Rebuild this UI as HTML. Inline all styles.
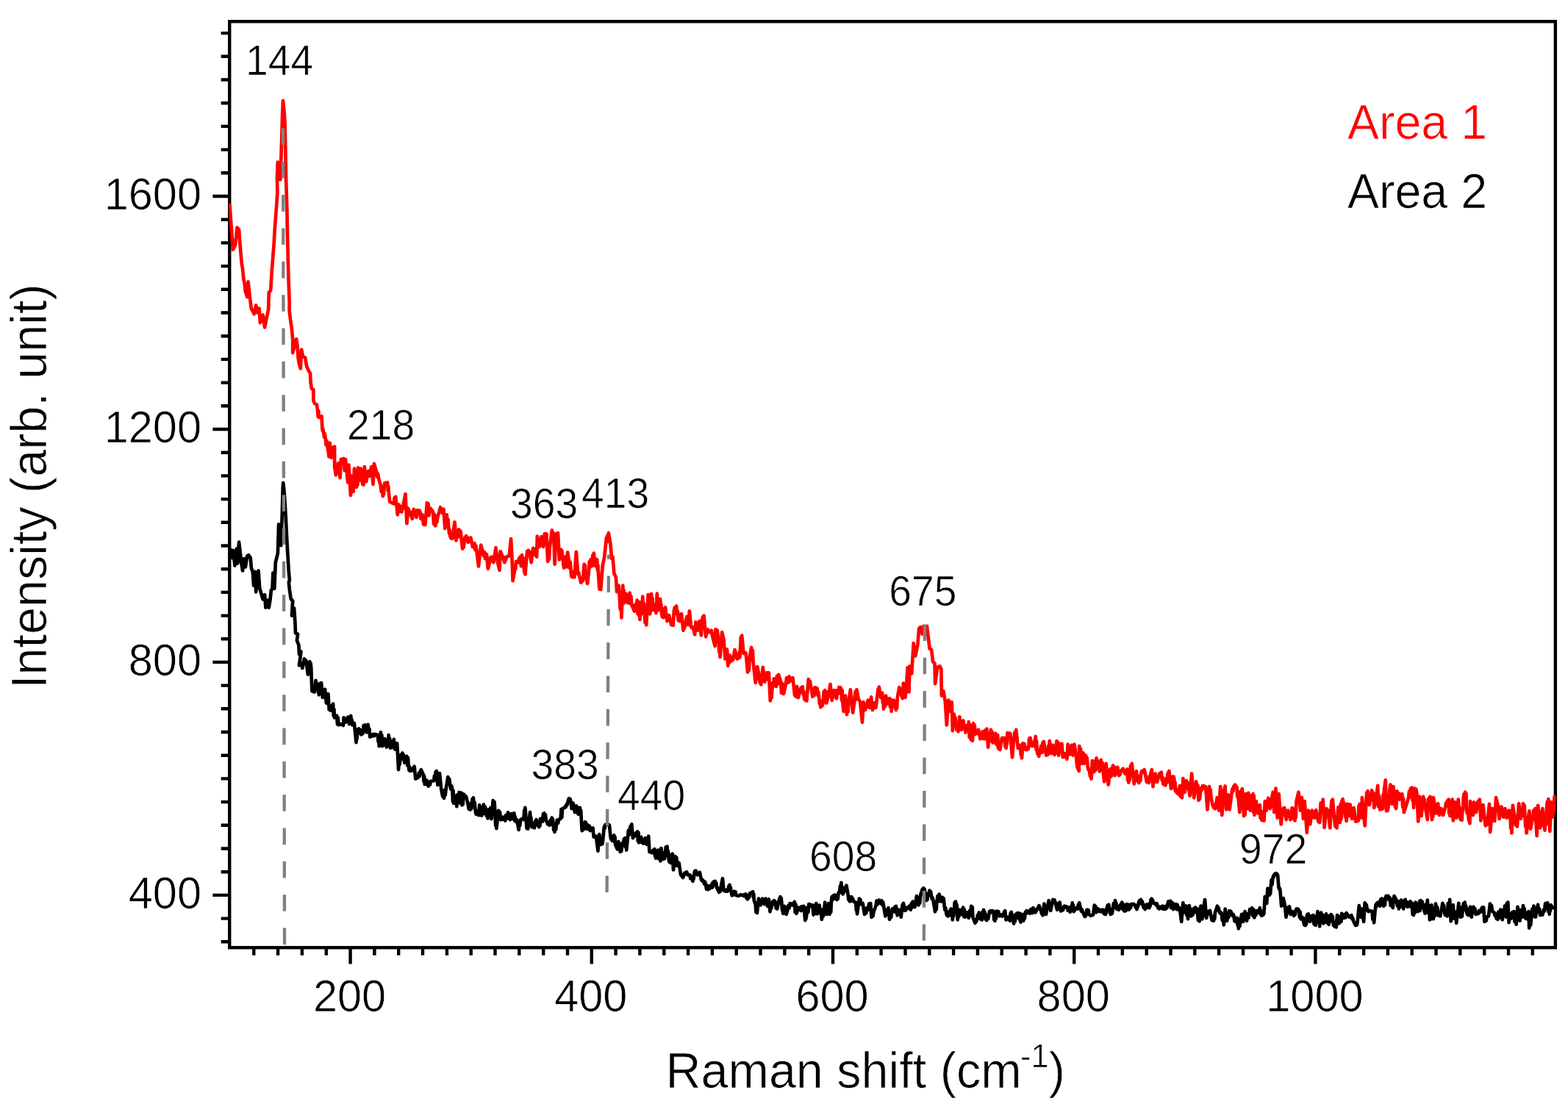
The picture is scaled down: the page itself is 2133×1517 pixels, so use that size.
<!DOCTYPE html>
<html lang="en"><head><meta charset="utf-8"><title>Raman spectra</title>
<style>html,body{margin:0;padding:0;background:#fff}svg{display:block}</style></head>
<body>
<svg xmlns="http://www.w3.org/2000/svg" width="2133" height="1517" viewBox="0 0 2133 1517" font-family='"Liberation Sans", Arial, Helvetica, sans-serif'>
<style>text{stroke:#fff;stroke-width:0.7px;paint-order:fill stroke;stroke-linejoin:round}</style>
<rect x="0" y="0" width="2133" height="1517" fill="#fff"/>
<defs><clipPath id="plot"><rect x="311.35" y="28.35" width="1805.40" height="1261.80"/></clipPath></defs>
<path d="M300.7,1281.3H312.2M300.7,1249.6H312.2M289.4,1217.9H312.2M300.7,1186.2H312.2M300.7,1154.5H312.2M300.7,1122.8H312.2M300.7,1091.1H312.2M300.7,1059.4H312.2M300.7,1027.7H312.2M300.7,996.0H312.2M300.7,964.3H312.2M300.7,932.6H312.2M289.4,900.9H312.2M300.7,869.2H312.2M300.7,837.6H312.2M300.7,805.9H312.2M300.7,774.2H312.2M300.7,742.5H312.2M300.7,710.8H312.2M300.7,679.1H312.2M300.7,647.4H312.2M300.7,615.7H312.2M289.4,584.0H312.2M300.7,552.3H312.2M300.7,520.6H312.2M300.7,488.9H312.2M300.7,457.2H312.2M300.7,425.5H312.2M300.7,393.8H312.2M300.7,362.1H312.2M300.7,330.4H312.2M300.7,298.7H312.2M289.4,267.0H312.2M300.7,235.3H312.2M300.7,203.6H312.2M300.7,171.9H312.2M300.7,140.2H312.2M300.7,108.5H312.2M300.7,76.8H312.2M300.7,45.1H312.2M345.3,1289.2V1299.8M378.1,1289.2V1299.8M410.9,1289.2V1299.8M443.8,1289.2V1299.8M476.6,1289.2V1311.6M509.4,1289.2V1299.8M542.2,1289.2V1299.8M575.0,1289.2V1299.8M607.9,1289.2V1299.8M640.7,1289.2V1299.8M673.5,1289.2V1299.8M706.3,1289.2V1299.8M739.2,1289.2V1299.8M772.0,1289.2V1299.8M804.8,1289.2V1311.6M837.6,1289.2V1299.8M870.4,1289.2V1299.8M903.3,1289.2V1299.8M936.1,1289.2V1299.8M968.9,1289.2V1299.8M1001.7,1289.2V1299.8M1034.5,1289.2V1299.8M1067.4,1289.2V1299.8M1100.2,1289.2V1299.8M1133.0,1289.2V1311.6M1165.8,1289.2V1299.8M1198.6,1289.2V1299.8M1231.5,1289.2V1299.8M1264.3,1289.2V1299.8M1297.1,1289.2V1299.8M1329.9,1289.2V1299.8M1362.7,1289.2V1299.8M1395.6,1289.2V1299.8M1428.4,1289.2V1299.8M1461.2,1289.2V1311.6M1494.0,1289.2V1299.8M1526.8,1289.2V1299.8M1559.7,1289.2V1299.8M1592.5,1289.2V1299.8M1625.3,1289.2V1299.8M1658.1,1289.2V1299.8M1691.0,1289.2V1299.8M1723.8,1289.2V1299.8M1756.6,1289.2V1299.8M1789.4,1289.2V1311.6M1822.2,1289.2V1299.8M1855.1,1289.2V1299.8M1887.9,1289.2V1299.8M1920.7,1289.2V1299.8M1953.5,1289.2V1299.8M1986.3,1289.2V1299.8M2019.2,1289.2V1299.8M2052.0,1289.2V1299.8M2084.8,1289.2V1299.8" stroke="#000" stroke-width="4.4" fill="none"/>
<rect x="312.25" y="29.25" width="1803.6" height="1260.0" fill="none" stroke="#000" stroke-width="4.4"/>
<path clip-path="url(#plot)" d="M312.5,752.7 L313.8,747.7 L315.6,759.0 L317.5,749.0 L319.4,769.6 L321.9,746.5 L323.2,766.5 L325.1,737.7 L326.9,752.7 L328.2,765.2 L330.1,776.5 L331.9,760.2 L333.8,771.5 L336.3,756.5 L338.2,755.2 L340.7,759.0 L341.9,772.8 L343.8,777.8 L345.1,796.5 L347.0,777.8 L348.2,805.3 L350.1,784.0 L351.6,776.5 L353.2,800.3 L355.1,806.6 L357.6,815.3 L360.1,809.1 L361.4,826.6 L363.9,816.6 L365.8,826.6 L367.6,815.3 L368.9,802.8 L370.4,801.5 L371.4,779.6 L373.3,800.9 L374.8,765.2 L377.9,752.7 L379.1,713.3 L380.6,727.7 L382.3,742.1 L383.7,702.6 L384.7,665.0 L385.2,656.9 L386.2,665.0 L387.2,677.6 L388.7,702.6 L389.9,727.7 L391.3,752.7 L392.8,777.8 L393.9,789.0 L392.9,792.5 L393.9,802.5 L395.7,815.0 L398.2,817.5 L397.0,837.6 L400.1,827.6 L401.4,846.4 L402.0,861.4 L405.1,862.6 L403.9,871.4 L406.4,877.7 L407.0,890.2 L409.5,886.4 L407.0,905.2 L410.1,902.7 L411.4,909.0 L413.9,896.5 L416.4,899.0 L418.9,917.7 L421.4,900.2 L422.0,905.6 L422.6,902.4 L423.3,909.0 L423.9,927.8 L424.5,940.3 L427.7,941.5 L429.5,925.9 L431.4,934.0 L433.9,945.3 L435.0,930.0 L436.0,941.0 L437.1,929.0 L438.9,949.0 L442.1,937.8 L443.9,956.6 L444.8,949.1 L445.6,953.2 L446.4,944.0 L447.7,965.3 L450.2,966.6 L451.2,960.2 L452.2,966.1 L453.1,957.5 L453.8,973.8 L454.4,964.8 L455.0,976.3 L456.1,974.6 L457.1,975.5 L458.2,973.8 L459.0,985.4 L459.8,976.6 L460.7,986.4 L464.4,985.1 L466.9,987.0 L467.6,976.3 L468.4,981.8 L469.2,977.9 L470.1,982.6 L471.1,978.5 L472.1,981.5 L473.2,975.7 L473.8,981.7 L474.4,976.3 L475.1,985.1 L475.8,975.4 L476.6,981.5 L477.3,973.8 L478.0,983.4 L478.7,979.3 L479.4,986.4 L480.3,984.7 L481.1,985.7 L481.9,983.9 L484.5,1010.1 L485.1,993.5 L485.7,1005.4 L486.3,992.6 L488.2,991.4 L489.3,997.4 L490.3,992.9 L491.4,999.5 L493.9,997.6 L494.7,987.0 L495.5,993.2 L496.4,986.4 L497.2,992.1 L498.0,990.5 L498.9,996.4 L500.7,985.7 L501.6,995.7 L502.4,991.4 L503.2,1002.6 L506.4,1001.4 L507.1,999.1 L507.9,1001.1 L508.6,999.2 L509.4,1001.0 L510.1,998.9 L513.9,1000.1 L514.5,1008.6 L515.1,1006.5 L515.8,1015.2 L516.5,1000.5 L517.2,1012.9 L517.9,996.4 L518.6,1008.6 L519.4,1000.1 L520.1,1015.2 L523.3,1005.1 L524.1,1013.9 L525.0,1008.9 L525.8,1016.4 L526.8,1006.5 L527.7,1013.4 L528.7,1000.1 L529.4,1014.5 L530.1,1004.5 L530.8,1017.7 L531.6,1012.8 L532.5,1017.1 L533.3,1011.4 L534.1,1008.3 L535.0,1011.1 L535.8,1005.8 L537.1,1019.5 L538.1,1012.4 L539.1,1018.6 L540.2,1011.4 L542.1,1047.1 L542.9,1031.9 L543.7,1040.0 L544.6,1030.2 L545.5,1026.7 L546.5,1028.7 L547.5,1024.5 L548.4,1032.9 L549.3,1027.4 L550.2,1037.7 L551.2,1031.2 L552.3,1036.2 L553.3,1028.9 L554.2,1041.4 L555.0,1031.0 L555.8,1042.7 L556.5,1048.0 L557.1,1043.1 L557.7,1049.0 L560.9,1048.3 L561.8,1045.1 L562.8,1047.5 L563.7,1042.7 L565.2,1059.6 L569.0,1057.7 L569.8,1051.7 L570.7,1056.2 L571.5,1050.2 L572.8,1047.1 L575.9,1054.0 L576.5,1063.1 L577.1,1055.9 L577.8,1067.1 L578.6,1063.4 L579.4,1065.0 L580.3,1061.5 L581.1,1067.7 L581.9,1065.0 L582.8,1069.6 L583.8,1063.8 L584.9,1067.7 L585.9,1062.8 L590.3,1062.1 L590.9,1055.7 L591.5,1059.5 L592.2,1055.2 L592.7,1050.1 L593.2,1053.7 L593.8,1049.0 L595.3,1067.8 L598.0,1052.1 L600.3,1074.0 L601.5,1080.3 L602.4,1083.8 L603.2,1082.0 L604.1,1085.9 L604.9,1074.8 L605.7,1081.9 L606.6,1074.0 L609.3,1057.1 L610.3,1064.5 L611.2,1059.5 L612.2,1067.8 L613.2,1073.7 L614.3,1069.3 L615.3,1074.0 L616.0,1090.3 L616.6,1075.9 L617.2,1092.8 L618.0,1083.4 L618.9,1089.4 L619.7,1082.8 L620.2,1093.2 L620.8,1085.6 L621.3,1097.2 L622.5,1081.2 L623.6,1092.1 L624.7,1077.8 L625.5,1092.3 L626.2,1083.8 L627.0,1089.7 L627.7,1078.7 L628.5,1095.3 L629.1,1085.0 L629.7,1094.3 L630.4,1080.3 L634.1,1084.0 L636.6,1094.1 L637.7,1100.6 L638.7,1096.8 L639.8,1101.6 L640.6,1092.6 L641.4,1100.0 L642.2,1091.5 L642.8,1086.6 L643.3,1089.2 L643.9,1085.3 L644.8,1096.5 L645.7,1091.7 L646.6,1102.8 L647.5,1107.7 L648.4,1103.4 L649.3,1106.7 L650.1,1103.5 L651.0,1109.1 L652.3,1095.3 L653.3,1109.0 L654.4,1098.1 L655.4,1109.7 L656.2,1098.4 L657.1,1107.4 L657.9,1094.7 L659.0,1102.5 L660.0,1097.9 L661.0,1105.3 L661.9,1110.1 L662.7,1106.7 L663.5,1113.5 L664.3,1101.5 L665.0,1107.5 L665.8,1104.1 L666.5,1108.7 L667.3,1099.1 L668.5,1114.1 L670.7,1089.0 L671.6,1107.8 L672.6,1091.2 L673.6,1109.1 L674.2,1123.3 L674.8,1110.3 L675.4,1127.2 L678.0,1102.8 L679.0,1110.0 L680.0,1104.8 L681.1,1115.3 L682.1,1111.9 L683.2,1114.5 L684.2,1111.6 L685.2,1114.7 L686.3,1112.7 L687.3,1116.6 L688.1,1109.1 L688.8,1113.9 L689.6,1110.1 L690.4,1113.7 L691.1,1105.3 L692.1,1112.7 L693.2,1109.1 L694.2,1115.3 L695.3,1107.3 L696.3,1113.8 L697.3,1107.2 L698.4,1114.5 L699.4,1106.4 L700.0,1116.0 L700.6,1110.8 L701.3,1117.7 L701.9,1115.3 L702.5,1117.3 L703.1,1115.1 L705.6,1128.9 L706.5,1120.5 L707.3,1123.1 L708.2,1115.1 L710.7,1113.9 L712.5,1115.1 L713.2,1102.3 L713.8,1112.4 L714.4,1098.9 L715.7,1115.1 L716.5,1126.8 L717.3,1119.4 L718.2,1127.7 L721.1,1105.1 L721.6,1117.6 L722.2,1111.7 L722.8,1120.2 L723.6,1125.3 L724.5,1121.6 L725.3,1124.2 L726.1,1120.9 L726.9,1126.4 L727.8,1117.6 L728.6,1123.1 L729.5,1115.1 L733.2,1125.2 L733.8,1117.8 L734.5,1123.3 L735.1,1113.9 L736.1,1117.1 L737.2,1114.5 L738.2,1117.7 L738.9,1107.7 L739.6,1115.7 L740.3,1106.4 L741.1,1113.1 L741.9,1108.3 L742.6,1115.1 L745.1,1121.4 L747.6,1122.7 L748.6,1116.2 L749.7,1121.7 L750.7,1112.6 L751.4,1118.2 L752.0,1114.4 L752.6,1120.2 L753.2,1129.0 L753.9,1120.9 L754.5,1132.0 L755.3,1125.7 L756.2,1128.5 L757.0,1121.4 L758.0,1115.5 L759.1,1120.0 L760.1,1115.1 L762.6,1113.9 L763.5,1101.0 L764.3,1112.2 L765.1,1100.1 L768.3,1098.9 L768.9,1097.2 L769.5,1098.3 L770.1,1096.4 L770.8,1094.3 L771.4,1095.5 L772.0,1092.6 L773.9,1086.3 L774.7,1088.6 L775.6,1087.0 L776.4,1090.1 L777.7,1100.1 L778.3,1093.0 L778.9,1098.4 L779.5,1092.6 L782.0,1105.1 L782.7,1096.9 L783.3,1103.0 L783.9,1096.4 L784.8,1102.8 L785.6,1098.4 L786.4,1107.6 L787.3,1101.9 L788.1,1105.8 L788.9,1098.9 L789.6,1108.6 L790.2,1102.7 L790.8,1115.1 L791.7,1130.2 L792.4,1128.0 L793.2,1129.3 L793.9,1126.4 L794.6,1120.5 L795.2,1124.8 L795.8,1118.3 L796.5,1125.5 L797.1,1119.2 L797.7,1127.7 L798.5,1123.3 L799.4,1126.7 L800.2,1122.7 L801.0,1128.3 L801.9,1123.7 L802.7,1130.2 L803.5,1126.8 L804.2,1129.8 L805.0,1127.1 L805.7,1129.0 L806.5,1126.4 L807.7,1138.9 L810.9,1137.7 L813.4,1157.7 L815.2,1135.2 L817.7,1149.0 L818.6,1144.8 L819.4,1148.2 L820.2,1142.7 L821.5,1127.7 L822.1,1124.5 L822.8,1127.1 L823.4,1122.0 L826.5,1121.4 L829.0,1122.7 L830.3,1136.4 L831.1,1141.6 L831.9,1138.4 L832.8,1143.9 L833.6,1138.3 L834.4,1141.7 L835.3,1136.4 L835.9,1145.1 L836.5,1138.7 L837.1,1149.0 L839.7,1155.2 L840.3,1145.9 L840.9,1153.2 L841.5,1145.2 L842.3,1156.2 L843.0,1148.0 L843.8,1159.0 L844.5,1154.3 L845.2,1158.2 L845.9,1152.7 L846.8,1146.8 L847.6,1150.3 L848.4,1143.9 L849.0,1141.4 L849.7,1142.8 L850.3,1140.2 L850.9,1152.2 L851.5,1146.0 L852.2,1156.5 L854.1,1137.7 L854.9,1129.8 L855.7,1136.2 L856.6,1128.9 L857.5,1124.5 L858.4,1125.6 L859.3,1121.4 L861.0,1140.2 L861.8,1137.4 L862.6,1138.3 L863.5,1135.2 L867.2,1131.4 L867.8,1144.2 L868.5,1132.7 L869.1,1146.5 L870.1,1140.0 L871.2,1144.8 L872.2,1138.9 L873.3,1146.5 L874.3,1142.2 L875.4,1147.7 L876.2,1141.8 L877.0,1145.1 L877.9,1140.2 L878.5,1147.0 L879.1,1141.7 L879.7,1149.0 L880.6,1141.0 L881.4,1146.6 L882.2,1137.7 L883.5,1159.0 L887.2,1160.2 L888.3,1156.8 L889.3,1158.3 L890.4,1155.2 L891.0,1164.5 L891.6,1157.0 L892.2,1167.7 L893.3,1157.8 L894.3,1165.6 L895.4,1156.5 L896.4,1168.5 L897.5,1159.2 L898.5,1171.5 L899.4,1154.0 L900.4,1165.0 L901.3,1159.8 L902.3,1169.0 L903.1,1164.2 L903.9,1168.3 L904.8,1162.7 L905.7,1152.6 L906.6,1157.9 L907.5,1151.5 L908.3,1164.3 L909.0,1158.2 L909.8,1170.2 L910.6,1172.7 L911.5,1170.9 L912.3,1174.0 L913.1,1163.1 L914.0,1172.5 L914.8,1161.5 L916.0,1183.4 L918.5,1165.2 L919.4,1173.2 L920.2,1166.5 L921.1,1177.8 L923.6,1174.0 L926.1,1190.3 L929.2,1194.0 L929.8,1189.9 L930.5,1191.3 L931.1,1187.8 L934.2,1186.5 L935.5,1190.3 L938.6,1190.3 L939.3,1195.3 L940.1,1192.2 L940.9,1195.5 L941.6,1193.6 L942.4,1199.0 L943.0,1192.5 L943.6,1195.9 L944.2,1190.3 L945.1,1185.2 L945.9,1188.7 L946.7,1184.7 L948.8,1190.2 L949.8,1188.2 L950.9,1189.2 L951.9,1187.0 L953.8,1196.4 L954.8,1198.2 L955.9,1197.3 L956.9,1198.9 L958.0,1202.5 L959.0,1199.6 L960.0,1203.9 L961.1,1209.7 L962.1,1204.8 L963.2,1210.2 L964.0,1206.4 L964.8,1209.3 L965.7,1205.2 L966.5,1207.1 L967.3,1205.7 L968.2,1207.7 L968.8,1201.9 L969.4,1207.1 L970.1,1200.2 L972.8,1198.9 L973.6,1204.8 L974.3,1201.3 L975.1,1207.7 L978.2,1214.0 L979.0,1208.5 L979.9,1212.7 L980.7,1206.5 L983.0,1195.2 L984.5,1211.5 L987.6,1212.7 L988.6,1210.8 L989.7,1212.5 L990.7,1210.2 L991.4,1205.6 L992.0,1207.5 L992.6,1203.9 L993.2,1209.2 L993.9,1207.5 L994.5,1212.7 L995.7,1218.3 L996.8,1214.0 L997.8,1217.6 L998.9,1212.7 L999.7,1215.9 L1000.5,1213.3 L1001.4,1218.3 L1005.1,1219.0 L1007.6,1217.1 L1011.4,1219.0 L1012.4,1217.2 L1013.5,1218.0 L1014.5,1216.5 L1015.4,1221.8 L1016.2,1218.1 L1017.0,1223.4 L1018.1,1218.5 L1019.1,1220.8 L1020.1,1215.2 L1022.6,1215.8 L1023.1,1213.6 L1023.7,1214.8 L1024.2,1213.3 L1024.7,1220.5 L1025.2,1216.0 L1025.8,1225.2 L1027.7,1230.2 L1028.4,1240.9 L1029.2,1232.2 L1029.9,1242.1 L1032.0,1222.7 L1032.9,1229.3 L1033.7,1226.4 L1034.5,1231.5 L1037.1,1222.7 L1039.6,1230.2 L1040.2,1224.5 L1040.8,1227.5 L1041.4,1222.7 L1042.3,1229.2 L1043.1,1225.6 L1043.9,1232.8 L1044.6,1226.4 L1045.2,1228.8 L1045.8,1223.4 L1047.5,1240.3 L1048.4,1232.6 L1049.3,1235.7 L1050.2,1229.0 L1051.2,1226.3 L1052.3,1227.8 L1053.3,1225.2 L1054.0,1230.3 L1054.6,1226.8 L1055.2,1232.8 L1055.8,1235.7 L1056.5,1234.3 L1057.1,1236.5 L1059.6,1225.2 L1061.5,1220.2 L1062.1,1226.6 L1062.7,1221.9 L1063.4,1229.0 L1064.0,1238.3 L1064.6,1233.6 L1065.2,1242.8 L1065.9,1233.8 L1066.5,1238.6 L1067.1,1232.8 L1068.0,1242.7 L1068.8,1234.4 L1069.6,1244.0 L1071.5,1237.8 L1072.5,1231.8 L1073.6,1235.5 L1074.6,1229.0 L1075.7,1230.7 L1076.7,1229.7 L1077.8,1231.5 L1080.9,1227.1 L1081.7,1241.0 L1082.6,1230.7 L1083.4,1242.8 L1086.5,1234.6 L1087.6,1237.2 L1088.6,1235.4 L1089.7,1239.0 L1090.4,1233.4 L1091.2,1237.4 L1091.9,1235.1 L1092.7,1238.5 L1093.4,1232.8 L1095.3,1252.2 L1095.9,1247.5 L1096.5,1249.9 L1097.2,1245.3 L1098.2,1234.5 L1099.3,1241.1 L1100.3,1230.2 L1101.1,1232.5 L1102.0,1230.5 L1102.8,1232.8 L1105.3,1231.5 L1106.6,1244.7 L1107.3,1233.8 L1108.1,1239.2 L1108.8,1231.9 L1109.6,1243.0 L1110.3,1229.0 L1111.6,1243.4 L1112.6,1233.0 L1113.7,1239.4 L1114.7,1231.5 L1115.7,1242.9 L1116.8,1236.8 L1117.8,1250.9 L1118.9,1241.1 L1119.9,1246.6 L1121.0,1237.8 L1122.2,1227.7 L1123.0,1238.9 L1123.9,1233.7 L1124.7,1244.0 L1125.6,1234.2 L1126.4,1242.0 L1127.2,1229.0 L1128.5,1244.0 L1129.3,1231.8 L1130.2,1241.2 L1131.0,1225.2 L1131.6,1220.4 L1132.2,1224.7 L1132.9,1219.0 L1135.4,1217.7 L1136.4,1222.8 L1137.5,1219.2 L1138.5,1224.0 L1139.1,1217.9 L1139.8,1222.8 L1140.4,1215.2 L1142.2,1212.7 L1143.0,1205.3 L1143.7,1209.9 L1144.4,1200.8 L1145.1,1215.0 L1145.9,1206.9 L1146.6,1216.5 L1148.5,1212.7 L1151.4,1204.6 L1153.5,1216.5 L1154.4,1224.3 L1155.2,1219.7 L1156.0,1226.5 L1156.9,1222.8 L1157.7,1225.6 L1158.5,1220.2 L1159.4,1223.9 L1160.2,1222.8 L1161.0,1226.5 L1164.2,1227.7 L1164.8,1238.3 L1165.4,1232.8 L1166.0,1243.4 L1168.9,1222.7 L1169.6,1228.0 L1170.3,1223.9 L1171.1,1230.2 L1173.6,1229.0 L1176.1,1244.0 L1177.1,1238.2 L1178.2,1242.5 L1179.2,1235.2 L1179.8,1237.6 L1180.5,1236.1 L1181.1,1237.8 L1182.1,1229.5 L1183.2,1234.8 L1184.2,1229.0 L1185.5,1247.8 L1186.5,1242.2 L1187.5,1246.4 L1188.6,1240.3 L1191.7,1231.5 L1192.5,1225.5 L1193.2,1231.0 L1194.0,1227.6 L1194.7,1229.0 L1195.5,1224.6 L1196.3,1228.6 L1197.2,1226.5 L1198.0,1229.0 L1198.5,1225.9 L1198.9,1228.3 L1199.4,1225.2 L1200.2,1231.2 L1201.1,1227.3 L1201.9,1231.5 L1204.4,1246.5 L1205.2,1242.3 L1206.1,1243.8 L1206.9,1240.3 L1207.5,1236.9 L1208.0,1239.3 L1208.5,1235.2 L1210.0,1250.9 L1211.1,1242.3 L1212.1,1248.5 L1213.2,1240.3 L1214.0,1236.4 L1214.8,1239.3 L1215.7,1235.9 L1216.9,1240.3 L1217.6,1233.6 L1218.3,1239.3 L1219.0,1232.8 L1219.6,1242.0 L1220.1,1236.5 L1220.7,1245.3 L1221.5,1238.2 L1222.3,1243.6 L1223.2,1237.8 L1224.0,1243.9 L1224.9,1238.4 L1225.7,1247.8 L1227.6,1231.5 L1229.1,1229.0 L1229.8,1238.4 L1230.6,1233.3 L1231.3,1239.0 L1234.5,1235.2 L1237.0,1232.8 L1237.6,1236.4 L1238.2,1233.4 L1238.8,1237.8 L1239.8,1229.3 L1240.7,1234.7 L1241.6,1226.5 L1244.5,1234.0 L1247.0,1219.0 L1247.8,1226.3 L1248.7,1220.9 L1249.5,1231.5 L1250.3,1224.3 L1251.2,1228.9 L1252.0,1220.2 L1252.6,1215.7 L1253.2,1217.1 L1253.9,1212.7 L1254.6,1210.2 L1255.4,1211.4 L1256.1,1208.3 L1256.8,1211.0 L1257.5,1209.5 L1258.2,1212.7 L1258.9,1223.9 L1259.5,1216.6 L1260.1,1225.2 L1260.8,1221.2 L1261.4,1224.3 L1262.0,1220.2 L1262.8,1215.4 L1263.7,1217.3 L1264.5,1211.5 L1265.3,1216.0 L1266.2,1213.2 L1267.0,1219.0 L1267.8,1223.0 L1268.7,1221.6 L1269.5,1225.2 L1272.0,1240.3 L1272.9,1227.6 L1273.7,1237.5 L1274.5,1226.5 L1275.6,1218.8 L1276.6,1225.8 L1277.7,1216.5 L1278.3,1222.9 L1278.9,1219.9 L1279.5,1226.5 L1280.4,1222.2 L1281.2,1224.3 L1282.0,1220.8 L1282.9,1226.8 L1283.7,1222.3 L1284.5,1231.5 L1285.4,1237.8 L1286.2,1234.9 L1287.1,1241.5 L1287.9,1244.9 L1288.7,1242.0 L1289.6,1246.5 L1290.4,1240.7 L1291.2,1245.4 L1292.1,1240.3 L1292.7,1238.0 L1293.3,1239.7 L1293.9,1236.5 L1294.6,1246.2 L1295.2,1237.9 L1295.8,1251.5 L1296.5,1241.5 L1297.2,1246.3 L1298.0,1237.8 L1298.6,1228.2 L1299.3,1234.3 L1300.0,1226.5 L1300.7,1233.7 L1301.4,1230.6 L1302.1,1237.8 L1302.7,1251.5 L1303.5,1240.0 L1304.4,1247.1 L1305.2,1237.8 L1306.0,1243.0 L1306.9,1239.3 L1307.7,1244.0 L1308.6,1237.7 L1309.4,1242.6 L1310.2,1234.6 L1311.1,1246.8 L1311.9,1237.5 L1312.7,1247.8 L1313.6,1243.9 L1314.4,1246.6 L1315.2,1241.5 L1316.1,1246.2 L1316.9,1243.9 L1317.7,1249.0 L1318.9,1239.0 L1320.1,1245.7 L1321.2,1232.8 L1322.0,1242.6 L1322.7,1234.0 L1323.4,1247.8 L1326.5,1255.9 L1327.3,1251.4 L1328.2,1253.7 L1329.0,1250.3 L1329.9,1245.1 L1330.8,1246.6 L1331.8,1241.5 L1332.3,1246.5 L1332.8,1245.3 L1333.4,1250.3 L1335.9,1251.5 L1336.6,1240.5 L1337.3,1247.3 L1338.0,1237.8 L1338.8,1242.0 L1339.5,1240.9 L1340.3,1245.3 L1340.9,1251.1 L1341.5,1246.8 L1342.2,1252.2 L1343.2,1244.9 L1344.2,1250.2 L1345.3,1244.0 L1346.1,1240.0 L1347.0,1242.0 L1347.8,1239.0 L1351.5,1239.6 L1352.2,1251.2 L1352.8,1244.5 L1353.4,1252.8 L1354.3,1243.3 L1355.1,1249.5 L1355.9,1239.6 L1357.0,1242.3 L1358.0,1239.9 L1359.1,1244.0 L1360.0,1246.3 L1360.8,1244.6 L1361.7,1245.8 L1362.6,1244.5 L1363.5,1246.5 L1365.3,1245.3 L1366.0,1240.8 L1366.6,1244.4 L1367.2,1239.0 L1368.5,1251.5 L1369.5,1249.4 L1370.5,1250.1 L1371.6,1247.8 L1372.3,1251.0 L1373.1,1250.0 L1373.8,1252.8 L1374.5,1242.9 L1375.1,1250.3 L1375.7,1240.9 L1379.1,1256.5 L1379.9,1246.1 L1380.8,1253.5 L1381.6,1244.0 L1384.7,1242.1 L1385.5,1249.5 L1386.2,1243.1 L1387.0,1251.2 L1387.8,1242.8 L1388.5,1254.7 L1389.3,1248.4 L1390.2,1252.3 L1391.0,1244.0 L1392.2,1252.8 L1393.1,1244.1 L1393.9,1249.6 L1394.8,1241.5 L1395.4,1240.1 L1396.0,1241.0 L1396.6,1239.0 L1397.5,1242.2 L1398.4,1240.3 L1399.3,1241.8 L1400.1,1239.6 L1401.0,1242.8 L1401.9,1237.4 L1402.8,1240.0 L1403.7,1236.6 L1404.5,1242.2 L1405.4,1235.2 L1406.4,1240.5 L1407.5,1237.5 L1408.5,1241.5 L1413.5,1232.1 L1416.0,1239.0 L1416.9,1242.8 L1417.7,1239.9 L1418.5,1245.3 L1420.4,1229.6 L1422.9,1244.0 L1426.7,1225.2 L1427.5,1235.0 L1428.4,1231.0 L1429.2,1239.0 L1432.3,1224.0 L1433.4,1226.8 L1434.4,1224.5 L1435.5,1227.7 L1438.0,1237.8 L1438.7,1229.5 L1439.5,1236.6 L1440.2,1228.8 L1441.0,1233.9 L1441.7,1227.7 L1443.0,1239.6 L1443.7,1235.5 L1444.5,1238.6 L1445.2,1236.6 L1446.0,1238.1 L1446.7,1235.2 L1447.2,1233.7 L1447.7,1235.1 L1448.1,1232.7 L1451.9,1234.0 L1452.7,1238.8 L1453.4,1235.0 L1454.2,1237.8 L1454.9,1237.0 L1455.7,1240.9 L1456.7,1233.5 L1457.7,1235.9 L1458.8,1228.3 L1459.4,1238.0 L1460.0,1231.3 L1460.7,1240.2 L1464.4,1235.2 L1466.3,1236.5 L1466.9,1230.6 L1467.5,1233.4 L1468.2,1228.3 L1470.1,1236.5 L1470.9,1239.8 L1471.7,1237.3 L1472.6,1240.2 L1475.7,1247.1 L1476.3,1244.0 L1476.9,1246.2 L1477.6,1242.8 L1478.3,1238.1 L1479.1,1242.3 L1479.8,1237.7 L1480.3,1243.6 L1480.8,1238.5 L1481.3,1244.0 L1483.8,1245.9 L1487.0,1244.6 L1488.8,1231.5 L1489.7,1238.9 L1490.5,1233.2 L1491.3,1241.5 L1492.2,1238.2 L1493.0,1239.6 L1493.8,1236.5 L1494.9,1239.9 L1495.9,1237.7 L1497.0,1240.2 L1498.0,1238.6 L1499.1,1239.6 L1500.1,1237.7 L1500.9,1242.2 L1501.6,1238.8 L1502.4,1243.5 L1503.1,1240.0 L1503.9,1244.0 L1504.5,1237.4 L1505.1,1242.1 L1505.8,1235.2 L1506.6,1232.0 L1507.4,1233.7 L1508.2,1230.8 L1510.8,1244.0 L1511.8,1237.6 L1512.8,1242.9 L1513.9,1236.5 L1514.9,1229.1 L1516.0,1232.8 L1517.0,1225.2 L1517.7,1233.6 L1518.3,1228.1 L1518.9,1236.5 L1522.0,1237.7 L1522.7,1232.7 L1523.3,1236.1 L1523.9,1231.5 L1526.4,1227.7 L1527.5,1237.3 L1528.5,1230.6 L1529.5,1239.6 L1530.6,1233.8 L1531.6,1239.1 L1532.7,1230.2 L1533.7,1234.9 L1534.8,1230.8 L1535.8,1237.7 L1536.8,1231.0 L1537.9,1235.2 L1538.9,1230.2 L1542.7,1230.2 L1546.5,1237.1 L1547.3,1231.4 L1548.1,1233.5 L1549.0,1227.7 L1550.0,1225.5 L1551.0,1227.3 L1552.1,1224.0 L1552.9,1229.7 L1553.8,1226.3 L1554.6,1230.2 L1555.6,1234.8 L1556.7,1231.3 L1557.7,1237.1 L1558.8,1231.4 L1559.8,1235.1 L1560.8,1230.2 L1563.4,1235.2 L1564.0,1229.5 L1564.6,1232.8 L1565.2,1226.5 L1565.7,1223.8 L1566.2,1225.8 L1566.7,1222.7 L1567.5,1227.8 L1568.2,1224.9 L1569.0,1229.0 L1571.5,1229.0 L1572.5,1231.2 L1573.6,1229.2 L1574.6,1232.7 L1575.5,1235.4 L1576.3,1233.8 L1577.1,1236.5 L1578.0,1233.7 L1578.9,1235.7 L1579.8,1234.0 L1580.6,1235.3 L1581.5,1232.7 L1582.3,1236.8 L1583.0,1233.2 L1583.8,1235.3 L1584.5,1234.5 L1585.3,1237.1 L1586.3,1232.6 L1587.4,1235.3 L1588.4,1230.2 L1589.2,1226.6 L1589.9,1229.0 L1590.7,1226.7 L1591.4,1228.3 L1592.2,1225.8 L1592.9,1235.0 L1593.7,1229.0 L1594.4,1233.0 L1595.2,1228.2 L1595.9,1237.1 L1596.7,1233.3 L1597.4,1236.0 L1598.2,1233.0 L1598.9,1235.7 L1599.7,1230.2 L1600.7,1237.1 L1601.8,1231.1 L1602.8,1237.7 L1603.4,1236.0 L1604.1,1237.3 L1604.7,1235.2 L1607.2,1254.0 L1609.3,1228.3 L1610.1,1237.3 L1610.8,1231.6 L1611.6,1241.5 L1612.2,1234.0 L1612.8,1239.8 L1613.5,1232.7 L1614.3,1245.2 L1615.1,1239.5 L1616.0,1250.3 L1616.6,1237.2 L1617.2,1245.8 L1617.8,1232.1 L1620.3,1246.5 L1621.4,1237.3 L1622.4,1245.0 L1623.5,1236.5 L1626.0,1234.6 L1627.0,1241.7 L1628.1,1236.1 L1629.1,1244.0 L1629.9,1252.1 L1630.8,1248.0 L1631.6,1253.4 L1632.2,1236.1 L1632.9,1248.5 L1633.5,1232.7 L1634.1,1245.0 L1634.7,1235.3 L1635.4,1250.3 L1636.0,1241.0 L1636.6,1246.5 L1637.2,1235.2 L1639.1,1224.0 L1641.0,1249.0 L1643.5,1240.2 L1646.0,1239.0 L1648.5,1252.1 L1651.0,1252.8 L1651.7,1246.3 L1652.3,1250.2 L1652.9,1241.5 L1656.0,1232.7 L1656.9,1236.9 L1657.7,1235.1 L1658.5,1240.2 L1659.6,1242.3 L1660.6,1241.0 L1661.7,1242.8 L1662.7,1252.2 L1663.8,1244.6 L1664.8,1258.4 L1666.7,1236.5 L1667.5,1249.1 L1668.3,1241.5 L1669.2,1252.8 L1670.2,1243.9 L1671.3,1248.2 L1672.3,1239.0 L1673.3,1241.8 L1674.4,1240.0 L1675.4,1242.8 L1676.5,1246.0 L1677.5,1243.8 L1678.6,1246.5 L1679.4,1253.1 L1680.2,1248.8 L1681.1,1254.0 L1681.7,1249.8 L1682.3,1252.1 L1683.0,1249.0 L1683.6,1258.6 L1684.2,1254.7 L1684.8,1263.4 L1685.7,1256.8 L1686.5,1260.1 L1687.3,1251.5 L1689.2,1244.0 L1689.8,1251.8 L1690.5,1245.5 L1691.1,1254.0 L1691.9,1243.4 L1692.8,1247.9 L1693.6,1240.2 L1694.4,1250.0 L1695.3,1242.9 L1696.1,1252.8 L1697.2,1243.5 L1698.3,1248.8 L1699.4,1242.8 L1700.1,1237.2 L1700.9,1241.9 L1701.7,1237.8 L1702.4,1240.0 L1703.2,1235.2 L1704.2,1246.0 L1705.2,1237.2 L1706.3,1248.4 L1707.3,1241.2 L1708.4,1245.1 L1709.4,1239.0 L1711.9,1241.5 L1713.8,1235.2 L1714.6,1243.8 L1715.5,1239.3 L1716.3,1245.9 L1717.3,1243.0 L1718.4,1244.5 L1719.4,1242.8 L1720.7,1220.2 L1721.5,1226.5 L1722.3,1223.3 L1723.2,1229.0 L1724.4,1208.9 L1725.3,1215.0 L1726.1,1209.6 L1726.9,1217.7 L1727.6,1208.6 L1728.2,1215.8 L1728.8,1205.2 L1729.7,1197.1 L1730.5,1203.4 L1731.3,1195.2 L1732.0,1192.2 L1732.6,1193.2 L1733.2,1190.2 L1735.3,1188.3 L1736.3,1190.3 L1737.3,1189.1 L1738.2,1191.4 L1739.5,1207.7 L1740.1,1209.4 L1740.7,1208.5 L1741.3,1210.2 L1743.2,1232.7 L1745.7,1222.1 L1747.6,1230.2 L1749.5,1247.8 L1750.1,1239.6 L1750.7,1243.9 L1751.4,1235.2 L1753.9,1233.4 L1755.8,1244.0 L1756.6,1240.7 L1757.4,1242.4 L1758.2,1240.2 L1760.1,1245.9 L1761.0,1241.2 L1761.8,1244.4 L1762.6,1239.0 L1763.3,1237.0 L1764.1,1238.7 L1764.8,1236.5 L1765.5,1238.7 L1766.3,1237.2 L1767.0,1239.0 L1767.8,1247.8 L1768.7,1240.6 L1769.5,1250.3 L1770.2,1248.0 L1770.8,1250.0 L1771.4,1247.8 L1772.0,1251.4 L1772.7,1248.8 L1773.3,1254.0 L1774.1,1258.2 L1775.0,1255.0 L1775.8,1259.0 L1776.4,1251.4 L1777.0,1257.5 L1777.7,1246.5 L1778.4,1244.1 L1779.2,1246.1 L1779.9,1243.4 L1780.6,1251.9 L1781.3,1246.2 L1782.0,1254.0 L1782.9,1249.5 L1783.7,1252.8 L1784.5,1246.5 L1786.4,1245.2 L1787.5,1257.3 L1788.5,1247.5 L1789.6,1259.0 L1790.5,1246.7 L1791.5,1251.6 L1792.4,1240.2 L1795.2,1260.3 L1795.8,1244.7 L1796.5,1254.1 L1797.1,1241.5 L1798.1,1252.1 L1799.2,1244.5 L1800.2,1256.5 L1801.0,1248.6 L1801.7,1254.2 L1802.5,1248.8 L1803.2,1254.4 L1804.0,1243.4 L1804.7,1252.1 L1805.5,1247.7 L1806.2,1256.2 L1807.0,1247.6 L1807.7,1257.8 L1808.8,1245.7 L1809.8,1253.2 L1810.8,1244.0 L1811.7,1252.8 L1812.5,1246.3 L1813.4,1254.0 L1814.0,1259.2 L1814.6,1254.5 L1815.2,1260.3 L1817.7,1261.5 L1819.0,1245.2 L1819.8,1253.5 L1820.7,1246.6 L1821.5,1256.5 L1822.2,1247.5 L1823.0,1254.6 L1823.8,1247.8 L1824.5,1253.8 L1825.2,1242.8 L1828.4,1249.0 L1829.4,1244.2 L1830.5,1248.3 L1831.5,1242.1 L1835.3,1247.8 L1838.4,1245.2 L1839.2,1250.2 L1840.1,1248.6 L1840.9,1252.8 L1844.0,1259.0 L1844.9,1256.0 L1845.7,1258.7 L1846.5,1255.3 L1848.8,1232.1 L1851.5,1247.8 L1852.8,1236.5 L1855.1,1254.0 L1856.6,1228.3 L1857.6,1233.1 L1858.7,1230.8 L1859.7,1236.5 L1860.3,1238.8 L1860.9,1237.9 L1861.6,1240.2 L1864.1,1239.0 L1866.6,1240.2 L1867.4,1250.7 L1868.2,1241.7 L1869.1,1255.3 L1871.0,1235.2 L1871.6,1230.8 L1872.2,1233.9 L1872.8,1229.0 L1874.7,1227.7 L1875.6,1230.6 L1876.4,1228.7 L1877.2,1232.7 L1878.1,1223.7 L1878.9,1231.2 L1879.7,1222.7 L1880.6,1230.7 L1881.4,1226.3 L1882.2,1232.7 L1883.1,1223.7 L1883.9,1231.3 L1884.7,1221.5 L1885.5,1219.1 L1886.2,1221.2 L1887.0,1219.3 L1887.8,1220.6 L1888.5,1219.0 L1889.3,1224.1 L1890.2,1220.8 L1891.0,1225.2 L1891.8,1232.2 L1892.5,1225.8 L1893.3,1232.5 L1894.0,1227.0 L1894.8,1235.2 L1895.4,1222.2 L1896.0,1228.2 L1896.6,1219.0 L1899.8,1225.2 L1900.8,1232.3 L1901.9,1226.5 L1902.9,1236.5 L1903.9,1226.4 L1905.0,1233.7 L1906.0,1224.6 L1907.1,1231.9 L1908.1,1228.6 L1909.2,1236.5 L1910.0,1225.3 L1910.9,1231.7 L1911.7,1223.9 L1912.8,1232.5 L1913.8,1227.2 L1914.8,1233.9 L1915.6,1227.7 L1916.3,1232.2 L1917.1,1228.9 L1917.8,1230.8 L1918.6,1226.4 L1919.4,1234.0 L1920.3,1228.3 L1921.1,1235.1 L1921.7,1244.0 L1922.3,1238.0 L1923.0,1245.2 L1923.8,1229.7 L1924.7,1241.9 L1925.5,1227.6 L1926.5,1238.7 L1927.6,1229.8 L1928.6,1240.2 L1929.4,1230.7 L1930.1,1235.8 L1930.9,1226.3 L1931.6,1239.2 L1932.4,1225.1 L1933.4,1230.0 L1934.5,1226.5 L1935.5,1232.6 L1938.6,1242.7 L1939.7,1230.4 L1940.7,1235.8 L1941.8,1224.5 L1942.8,1241.9 L1943.9,1232.0 L1944.9,1251.4 L1945.7,1237.7 L1946.6,1250.4 L1947.4,1231.4 L1948.2,1247.1 L1949.1,1239.1 L1949.9,1250.2 L1951.0,1236.0 L1952.0,1246.1 L1953.0,1229.5 L1954.1,1240.2 L1955.1,1234.0 L1956.2,1245.2 L1959.3,1246.4 L1962.4,1228.9 L1963.3,1239.2 L1964.1,1231.9 L1964.9,1240.2 L1965.7,1244.9 L1966.4,1241.7 L1967.2,1243.7 L1967.9,1242.6 L1968.7,1246.4 L1969.9,1229.1 L1971.0,1239.9 L1972.2,1223.9 L1973.7,1253.3 L1974.7,1232.6 L1975.8,1250.0 L1976.8,1231.4 L1977.7,1246.5 L1978.6,1240.2 L1979.5,1249.9 L1980.3,1242.3 L1981.2,1255.8 L1984.3,1228.9 L1985.2,1243.8 L1986.0,1234.2 L1986.8,1247.7 L1987.9,1238.2 L1988.9,1246.8 L1990.0,1235.1 L1990.9,1229.0 L1991.8,1234.6 L1992.7,1227.6 L1993.5,1238.1 L1994.2,1232.7 L1995.0,1240.2 L1995.8,1243.8 L1996.7,1241.2 L1997.5,1245.2 L1998.3,1236.8 L1999.2,1241.9 L2000.0,1233.9 L2000.6,1245.6 L2001.2,1236.0 L2001.9,1247.7 L2002.7,1236.6 L2003.5,1242.0 L2004.4,1233.9 L2005.4,1240.2 L2006.5,1236.2 L2007.5,1243.9 L2011.3,1242.7 L2012.0,1239.0 L2012.8,1241.0 L2013.5,1238.9 L2014.3,1240.8 L2015.0,1237.7 L2016.1,1234.7 L2017.1,1236.6 L2018.2,1234.5 L2019.4,1253.9 L2020.5,1249.8 L2021.5,1253.0 L2022.5,1247.7 L2025.0,1246.4 L2026.9,1229.5 L2028.0,1239.0 L2029.0,1231.9 L2030.1,1240.2 L2032.6,1241.4 L2033.4,1245.4 L2034.2,1243.2 L2035.1,1247.7 L2035.9,1249.9 L2036.7,1248.6 L2037.6,1250.8 L2038.3,1240.5 L2039.1,1247.9 L2039.8,1241.2 L2040.6,1246.0 L2041.3,1237.7 L2042.2,1249.1 L2043.0,1241.8 L2043.8,1251.4 L2044.9,1238.3 L2045.9,1245.0 L2047.0,1232.6 L2048.8,1247.7 L2049.7,1229.4 L2050.5,1243.4 L2051.3,1227.6 L2052.6,1255.2 L2053.3,1245.2 L2054.1,1250.2 L2054.9,1245.6 L2055.6,1249.8 L2056.4,1242.7 L2057.4,1241.1 L2058.4,1241.7 L2059.5,1240.2 L2060.5,1254.1 L2061.6,1247.4 L2062.6,1257.7 L2064.5,1233.9 L2067.6,1252.7 L2068.5,1238.2 L2069.4,1246.9 L2070.3,1241.1 L2071.1,1247.6 L2072.0,1232.0 L2072.8,1243.9 L2073.7,1236.1 L2074.5,1247.7 L2075.6,1249.7 L2076.6,1248.0 L2077.7,1250.2 L2078.3,1241.3 L2078.9,1246.7 L2079.5,1240.2 L2080.2,1262.7 L2081.2,1248.7 L2082.2,1258.5 L2083.3,1247.7 L2084.3,1236.7 L2085.4,1245.2 L2086.4,1232.6 L2087.2,1246.7 L2088.1,1236.0 L2088.9,1247.7 L2092.1,1230.8 L2093.1,1239.6 L2094.1,1236.6 L2095.2,1245.2 L2095.9,1243.2 L2096.7,1244.5 L2097.4,1243.4 L2098.2,1244.8 L2098.9,1242.7 L2099.8,1238.0 L2100.6,1239.8 L2101.4,1235.1 L2102.2,1229.0 L2102.9,1234.7 L2103.7,1230.2 L2104.4,1233.5 L2105.2,1228.2 L2106.0,1239.9 L2106.9,1234.1 L2107.7,1243.9 L2108.3,1236.7 L2108.9,1239.3 L2109.6,1231.4 L2112.1,1235.1" fill="none" stroke="#000" stroke-width="4.7" stroke-linejoin="round" stroke-linecap="round"/>
<path clip-path="url(#plot)" d="M312.5,278.8 L316.9,339.5 L320.0,333.9 L322.5,309.5 L325.1,312.6 L326.3,330.1 L327.6,345.2 L328.7,357.7 L330.1,366.4 L331.3,379.0 L332.8,386.5 L333.8,396.5 L336.3,404.0 L337.6,383.4 L339.8,404.0 L340.3,407.8 L341.9,420.3 L343.8,422.8 L345.7,427.2 L348.2,415.3 L350.1,425.3 L352.6,419.7 L353.9,439.1 L355.7,435.3 L357.6,428.4 L360.1,445.4 L362.6,432.8 L365.1,421.6 L365.8,397.8 L368.2,395.2 L369.5,372.7 L371.4,347.7 L372.6,332.6 L373.9,310.1 L375.8,285.1 L377.4,262.5 L377.0,240.0 L377.5,228.0 L377.8,220.5 L378.8,226.0 L381.3,244.5 L382.5,211.7 L383.3,187.7 L384.0,160.0 L385.0,137.0 L386.4,150.0 L387.6,168.0 L388.2,196.9 L389.1,243.1 L390.4,285.0 L390.8,310.1 L391.4,335.1 L392.0,360.2 L392.7,385.2 L393.7,410.3 L393.6,422.5 L395.1,435.0 L396.9,447.6 L398.2,461.3 L398.2,480.1 L400.1,472.6 L403.2,461.3 L404.5,470.1 L405.7,487.6 L407.0,495.1 L408.8,501.4 L410.1,475.7 L412.0,485.1 L415.1,486.4 L417.0,497.6 L420.1,505.2 L422.0,507.7 L422.6,520.2 L423.9,529.0 L426.4,530.2 L426.4,545.2 L428.2,549.0 L430.8,550.2 L432.0,557.8 L432.6,566.5 L433.3,558.8 L433.9,567.8 L437.6,566.5 L438.3,581.5 L438.9,586.2 L439.5,583.7 L440.1,587.8 L441.0,594.6 L441.8,589.9 L442.6,595.3 L443.6,605.4 L444.6,599.9 L445.6,607.6 L447.5,621.4 L448.8,602.6 L449.4,613.9 L450.0,610.0 L450.7,622.6 L451.3,612.5 L451.9,621.4 L452.5,608.8 L455.1,607.6 L455.1,635.1 L456.9,646.4 L458.0,637.4 L459.0,640.1 L460.1,630.1 L462.6,650.2 L463.8,625.1 L467.6,623.9 L468.8,640.1 L470.1,625.1 L473.2,656.4 L474.5,632.6 L477.0,674.0 L477.6,652.2 L478.2,662.7 L478.8,647.7 L479.5,666.6 L480.1,652.2 L480.7,669.0 L482.0,637.6 L482.6,644.4 L483.2,641.8 L483.9,647.7 L485.1,662.7 L485.7,648.0 L486.4,659.7 L487.0,636.4 L487.6,646.9 L488.2,639.1 L488.9,653.9 L489.5,644.6 L490.1,650.5 L490.7,637.6 L492.6,652.7 L493.2,658.7 L493.9,655.2 L494.5,659.6 L495.8,635.1 L496.6,646.3 L497.4,641.8 L498.2,655.2 L500.1,641.4 L501.0,647.0 L501.8,643.7 L502.6,647.7 L503.5,639.5 L504.3,646.9 L505.1,635.1 L507.6,658.9 L508.9,630.8 L512.0,641.4 L513.1,648.7 L514.1,644.6 L515.2,651.4 L517.7,660.2 L518.7,668.9 L519.8,664.5 L520.8,675.2 L521.4,661.9 L522.0,672.9 L522.7,660.2 L523.5,657.1 L524.4,659.5 L525.3,657.0 L526.2,659.9 L527.1,656.4 L527.7,667.5 L528.3,661.8 L528.9,670.2 L530.2,682.7 L532.7,684.0 L535.8,685.2 L536.7,677.1 L537.5,684.4 L538.3,675.8 L540.8,700.3 L542.7,686.5 L543.5,693.4 L544.2,690.4 L545.0,696.0 L545.7,690.4 L546.5,696.5 L547.3,688.7 L548.1,691.7 L549.0,685.2 L551.5,672.1 L553.4,712.2 L555.2,691.5 L560.9,705.9 L561.5,696.0 L562.1,700.4 L562.8,692.8 L566.5,704.0 L567.8,694.0 L568.5,695.4 L569.3,695.0 L570.0,695.9 L570.8,694.5 L571.5,696.5 L572.3,705.6 L573.0,700.0 L573.8,703.3 L574.5,700.2 L575.3,707.8 L576.3,713.5 L577.4,710.3 L578.4,714.0 L580.9,684.0 L581.7,697.6 L582.6,685.1 L583.4,701.5 L585.3,691.5 L589.0,696.5 L590.1,712.9 L591.1,699.8 L592.2,715.3 L593.2,707.0 L594.3,710.4 L595.3,704.0 L599.1,690.2 L601.6,697.8 L603.5,692.8 L605.3,719.0 L607.8,700.3 L608.7,715.5 L609.5,706.4 L610.3,717.8 L611.0,725.8 L611.6,720.6 L612.2,729.1 L613.3,732.0 L614.3,729.9 L615.4,732.8 L618.5,710.3 L620.4,735.3 L621.1,723.3 L621.9,730.7 L622.6,722.6 L623.4,730.3 L624.1,720.3 L626.6,722.8 L629.1,746.6 L630.0,737.9 L630.8,744.6 L631.6,735.3 L632.5,731.2 L633.3,735.0 L634.1,729.1 L635.0,735.0 L635.8,731.1 L636.6,737.8 L637.4,734.0 L638.1,737.0 L638.9,732.4 L639.6,736.6 L640.4,731.6 L642.9,744.1 L645.4,739.1 L646.4,748.2 L647.5,742.6 L648.5,750.4 L651.0,770.4 L654.2,741.6 L656.7,750.0 L657.8,756.2 L658.9,751.0 L660.1,760.2 L661.9,753.9 L663.8,773.9 L666.3,763.9 L667.1,758.5 L668.0,762.2 L668.8,757.7 L669.7,762.0 L670.5,759.4 L671.3,765.2 L674.5,745.1 L677.0,765.2 L679.5,775.8 L680.7,750.1 L683.9,757.7 L686.4,765.2 L687.2,758.4 L688.0,762.1 L688.9,757.7 L692.6,756.4 L695.1,733.2 L696.4,757.7 L697.6,790.2 L700.1,776.5 L700.8,769.1 L701.4,773.9 L702.0,763.9 L705.1,765.2 L706.0,759.8 L706.8,764.4 L707.6,757.7 L708.9,770.2 L710.1,755.2 L711.0,767.1 L711.8,759.4 L712.6,770.2 L713.3,778.6 L713.9,774.7 L714.5,781.5 L716.4,757.7 L717.2,749.8 L718.1,754.3 L718.9,748.9 L719.8,754.0 L720.6,751.2 L721.4,757.7 L722.7,765.2 L725.2,745.8 L726.0,749.9 L726.9,746.8 L727.7,750.1 L728.5,755.5 L729.4,752.9 L730.2,757.7 L730.8,729.5 L733.9,743.9 L734.8,734.7 L735.6,739.1 L736.5,730.1 L739.0,743.9 L740.8,726.4 L743.3,726.4 L745.2,763.9 L746.0,750.5 L746.9,761.0 L747.7,745.1 L750.9,721.4 L751.7,728.3 L752.5,724.8 L753.4,732.6 L754.6,767.7 L756.5,726.4 L759.0,725.1 L760.9,761.4 L761.5,753.5 L762.1,755.5 L762.8,747.6 L763.6,754.7 L764.4,749.2 L765.2,757.7 L767.1,772.7 L767.8,764.1 L768.4,768.6 L769.0,757.7 L770.9,771.4 L772.1,751.4 L774.0,763.9 L774.9,773.0 L775.7,764.7 L776.5,773.9 L777.1,783.5 L777.8,777.4 L778.4,785.2 L781.5,785.2 L783.8,750.8 L785.9,776.5 L786.5,781.3 L787.2,779.0 L787.8,782.7 L790.3,792.7 L792.8,790.2 L794.7,767.7 L795.3,776.6 L795.9,769.0 L796.6,782.7 L799.1,794.0 L801.0,776.5 L801.8,764.1 L802.6,771.9 L803.5,761.4 L804.1,767.3 L804.7,762.8 L805.3,770.2 L806.2,755.7 L807.0,765.8 L807.8,752.6 L808.7,769.1 L809.5,759.4 L810.3,770.2 L811.0,764.8 L811.6,769.5 L812.2,761.4 L812.9,776.0 L813.5,769.6 L814.1,782.7 L815.4,801.5 L817.2,802.1 L819.7,770.2 L822.2,757.7 L824.1,740.1 L824.9,731.7 L825.6,735.7 L826.4,728.4 L827.1,736.5 L827.9,725.1 L830.4,740.1 L832.2,760.2 L833.5,757.7 L835.4,780.2 L837.9,785.2 L839.1,805.2 L840.0,798.6 L840.8,802.7 L841.6,796.5 L842.9,814.0 L843.7,828.9 L844.6,817.5 L845.4,840.3 L847.3,796.5 L847.9,809.9 L848.5,802.8 L849.2,820.3 L851.7,807.8 L852.5,816.5 L853.3,810.1 L854.2,820.3 L855.0,812.6 L855.8,817.4 L856.7,806.5 L857.5,821.1 L858.4,811.1 L859.2,822.8 L862.9,831.5 L863.7,823.1 L864.4,828.4 L865.2,821.9 L865.9,825.2 L866.7,816.5 L867.4,834.9 L868.2,824.8 L869.0,836.9 L869.7,819.0 L870.5,842.8 L871.2,823.3 L872.0,836.0 L872.7,825.6 L873.5,833.5 L874.2,811.5 L875.0,826.5 L875.9,820.7 L876.7,832.8 L877.5,846.8 L878.4,835.4 L879.2,850.3 L881.7,809.0 L884.2,835.3 L886.1,807.8 L886.8,825.9 L887.5,813.9 L888.1,830.1 L888.8,823.3 L889.4,829.0 L890.0,822.6 L892.5,833.9 L893.8,807.6 L895.6,830.1 L898.2,815.1 L898.8,826.2 L899.4,822.5 L900.0,835.1 L900.9,839.2 L901.7,836.5 L902.5,840.1 L903.4,828.4 L904.2,834.3 L905.0,826.4 L907.5,845.1 L908.4,839.9 L909.2,843.8 L910.1,837.0 L913.2,850.1 L915.7,850.8 L916.9,830.1 L918.0,826.4 L919.0,829.4 L920.1,824.5 L920.9,835.4 L921.8,831.3 L922.6,843.9 L924.5,845.1 L925.3,836.4 L926.1,841.1 L927.0,835.1 L929.5,857.7 L932.6,850.1 L933.2,842.6 L933.9,847.7 L934.5,838.9 L935.1,846.8 L935.7,843.5 L936.4,850.1 L937.9,831.4 L940.1,852.6 L941.1,854.1 L942.2,853.5 L943.2,855.2 L945.1,863.3 L946.4,846.4 L947.2,853.8 L948.0,848.4 L948.9,857.7 L951.4,845.1 L953.9,864.5 L955.1,843.9 L956.0,839.5 L956.8,842.9 L957.6,837.6 L960.1,866.4 L962.6,856.4 L965.8,860.2 L966.4,858.6 L967.0,859.8 L967.7,857.7 L970.2,870.2 L972.7,879.0 L973.3,856.4 L975.8,857.7 L977.7,876.5 L978.3,887.0 L978.9,878.1 L979.6,894.0 L982.1,860.2 L984.6,870.2 L986.5,896.5 L987.3,885.7 L988.1,892.6 L989.0,883.3 L990.2,905.9 L991.0,894.6 L991.9,902.2 L992.7,891.5 L995.2,899.0 L997.1,897.7 L999.6,884.0 L1002.7,896.5 L1005.2,895.2 L1005.9,886.5 L1006.5,894.2 L1007.1,882.7 L1007.8,866.9 L1008.5,875.2 L1009.2,864.5 L1011.5,889.0 L1014.6,888.4 L1017.1,914.6 L1018.0,900.0 L1018.8,912.2 L1019.6,895.2 L1022.1,880.8 L1023.0,897.3 L1023.8,884.9 L1024.7,901.5 L1027.8,929.0 L1028.6,909.7 L1029.5,924.0 L1030.3,907.1 L1032.8,920.3 L1033.6,928.9 L1034.5,923.9 L1035.3,931.5 L1037.8,907.8 L1040.3,927.8 L1041.1,919.3 L1042.0,924.7 L1042.8,915.3 L1045.9,915.3 L1047.8,953.5 L1048.7,940.4 L1049.5,949.6 L1050.3,939.1 L1051.2,928.8 L1052.0,933.6 L1052.8,923.4 L1056.0,934.1 L1057.0,919.5 L1058.0,930.6 L1059.1,917.8 L1062.2,927.8 L1063.0,942.9 L1063.7,930.1 L1064.5,940.5 L1065.2,930.5 L1066.0,944.1 L1069.1,930.3 L1070.0,922.2 L1070.9,926.7 L1071.7,924.7 L1072.6,928.5 L1073.5,920.3 L1074.1,926.0 L1074.7,922.4 L1075.4,926.5 L1078.5,922.2 L1081.0,945.3 L1082.9,947.8 L1084.1,934.1 L1086.0,949.1 L1088.5,939.1 L1089.6,936.0 L1090.6,937.3 L1091.7,934.1 L1092.5,944.5 L1093.3,940.9 L1094.2,951.6 L1097.3,953.5 L1099.8,924.0 L1100.8,932.1 L1101.9,926.7 L1102.9,932.8 L1105.4,947.8 L1106.5,937.2 L1107.5,946.2 L1108.5,935.3 L1111.7,936.6 L1112.5,946.1 L1113.3,941.7 L1114.2,949.1 L1114.9,957.5 L1115.7,953.4 L1116.4,962.2 L1117.6,956.9 L1118.7,960.1 L1119.8,955.4 L1120.7,941.0 L1121.5,948.1 L1122.3,939.1 L1123.0,949.1 L1123.6,940.9 L1124.2,956.6 L1127.3,945.3 L1129.5,930.9 L1131.7,952.8 L1132.8,940.2 L1133.8,948.0 L1134.8,939.1 L1135.9,948.3 L1136.9,940.5 L1138.0,950.3 L1139.1,939.1 L1140.2,943.8 L1141.3,935.2 L1142.3,937.6 L1143.4,935.4 L1144.4,937.7 L1145.0,952.9 L1145.7,939.3 L1146.3,955.2 L1147.5,967.8 L1148.4,947.7 L1149.2,962.0 L1150.0,946.5 L1151.9,972.1 L1152.8,959.2 L1153.6,968.5 L1154.4,955.2 L1156.9,938.3 L1160.1,969.6 L1162.6,952.7 L1163.5,941.1 L1164.5,951.6 L1165.4,938.3 L1167.6,950.2 L1170.1,955.2 L1173.0,982.8 L1174.5,955.2 L1175.3,964.5 L1176.1,959.4 L1177.0,965.9 L1180.7,952.7 L1181.3,961.8 L1182.0,956.0 L1182.6,962.8 L1185.1,948.4 L1187.0,965.9 L1189.5,956.5 L1191.4,962.8 L1193.9,942.7 L1194.5,937.9 L1195.1,940.8 L1195.8,934.6 L1198.2,949.0 L1200.1,942.7 L1200.8,955.7 L1201.4,948.6 L1202.0,964.6 L1203.0,951.2 L1204.1,961.0 L1205.1,946.5 L1206.2,956.6 L1207.2,950.2 L1208.3,957.7 L1208.9,952.6 L1209.5,957.2 L1210.2,950.2 L1211.0,961.8 L1211.8,951.6 L1212.7,967.8 L1213.7,954.4 L1214.7,961.3 L1215.8,952.7 L1218.9,965.9 L1219.5,955.4 L1220.2,963.3 L1220.8,949.0 L1223.3,935.2 L1225.2,942.7 L1227.7,950.2 L1228.9,929.6 L1231.4,949.0 L1233.3,930.2 L1234.6,908.3 L1236.5,941.5 L1237.5,906.4 L1240.2,916.4 L1242.7,875.1 L1243.5,890.7 L1244.4,880.2 L1245.2,892.6 L1248.3,877.6 L1250.2,855.0 L1252.1,853.2 L1252.9,858.4 L1253.8,856.4 L1254.6,862.6 L1256.5,851.9 L1259.0,853.2 L1260.9,851.9 L1262.8,867.6 L1264.6,882.6 L1267.1,883.9 L1269.0,900.1 L1271.5,902.6 L1272.1,930.2 L1275.3,907.6 L1278.4,906.4 L1280.3,910.1 L1280.9,946.5 L1281.7,942.8 L1282.6,943.8 L1283.4,940.2 L1285.9,955.2 L1287.8,986.5 L1290.3,952.7 L1291.1,965.7 L1292.0,956.7 L1292.8,967.8 L1293.4,958.0 L1294.1,964.3 L1294.7,955.2 L1295.9,994.1 L1296.6,979.3 L1297.2,986.7 L1297.8,971.5 L1298.7,982.0 L1299.5,976.3 L1300.3,984.0 L1301.4,993.0 L1302.4,984.9 L1303.5,995.3 L1304.1,983.6 L1304.7,987.8 L1305.3,975.3 L1306.2,986.1 L1307.0,982.6 L1307.8,992.8 L1308.7,984.8 L1309.5,989.6 L1310.3,980.3 L1313.5,996.6 L1314.3,987.7 L1315.2,990.6 L1316.1,987.1 L1317.0,991.1 L1317.8,982.2 L1318.7,1003.0 L1319.5,986.0 L1320.4,1005.3 L1321.2,1006.7 L1322.0,1006.4 L1322.9,1007.8 L1324.1,984.0 L1325.0,994.5 L1325.8,986.7 L1326.6,999.1 L1327.5,995.0 L1328.4,998.0 L1329.2,994.2 L1330.1,997.5 L1331.0,992.8 L1333.5,1005.3 L1334.5,999.0 L1335.6,1003.1 L1336.6,995.3 L1337.5,1004.8 L1338.3,995.9 L1339.1,1005.3 L1340.2,993.6 L1341.2,1003.0 L1342.3,991.5 L1344.2,1016.6 L1344.9,997.8 L1345.7,1008.8 L1346.4,1000.1 L1347.2,1007.4 L1347.9,992.8 L1348.7,1008.4 L1349.6,995.7 L1350.4,1010.3 L1354.2,997.8 L1354.9,1012.2 L1355.7,1005.4 L1356.4,1013.7 L1357.2,1000.1 L1357.9,1017.9 L1360.4,1020.0 L1362.9,1004.1 L1366.7,1004.1 L1367.3,1015.5 L1367.9,1009.6 L1368.6,1017.9 L1369.2,1005.6 L1369.8,1013.0 L1370.5,997.2 L1374.2,997.8 L1377.0,1030.4 L1379.2,1005.3 L1380.3,996.7 L1381.3,1001.5 L1382.3,992.8 L1384.8,1017.9 L1388.0,1014.1 L1388.7,1026.5 L1389.3,1021.1 L1390.0,1031.4 L1391.3,1011.4 L1392.3,1017.0 L1393.4,1011.8 L1394.4,1017.6 L1395.2,1019.9 L1396.1,1017.9 L1396.9,1020.1 L1397.7,1016.9 L1398.6,1019.3 L1399.4,1015.1 L1400.1,1004.6 L1400.8,1011.7 L1401.5,1003.9 L1403.8,1015.1 L1406.3,1014.5 L1408.8,1002.0 L1409.4,1019.4 L1410.0,1008.2 L1410.7,1021.4 L1411.5,1025.7 L1412.3,1023.4 L1413.2,1028.9 L1416.3,1015.1 L1417.6,1023.9 L1418.3,1010.6 L1419.1,1018.8 L1419.8,1008.9 L1423.2,1027.7 L1425.7,1026.4 L1426.4,1014.5 L1427.1,1019.4 L1427.8,1008.2 L1428.6,1019.9 L1429.3,1013.2 L1430.1,1025.2 L1432.0,1013.9 L1432.8,1024.3 L1433.6,1017.8 L1434.5,1027.0 L1437.6,1008.2 L1438.4,1024.7 L1439.3,1009.9 L1440.1,1027.7 L1442.0,1012.6 L1444.5,1012.0 L1445.8,1030.2 L1446.6,1026.9 L1447.4,1029.7 L1448.2,1025.2 L1451.4,1032.7 L1452.6,1012.6 L1455.1,1026.4 L1456.0,1017.3 L1456.8,1025.2 L1457.7,1013.9 L1458.3,1026.0 L1458.9,1017.1 L1459.5,1027.7 L1460.2,1017.1 L1460.8,1021.4 L1461.4,1012.6 L1463.9,1027.7 L1465.2,1042.7 L1467.7,1049.0 L1468.3,1015.1 L1469.1,1031.1 L1470.0,1018.5 L1470.8,1038.9 L1471.4,1027.5 L1472.0,1037.0 L1472.7,1023.9 L1473.3,1032.9 L1473.9,1025.2 L1474.5,1038.9 L1477.1,1027.7 L1477.9,1037.9 L1478.7,1030.9 L1479.6,1042.7 L1480.4,1047.2 L1481.2,1045.7 L1482.1,1050.2 L1482.9,1056.0 L1483.7,1053.5 L1484.6,1059.6 L1485.8,1035.2 L1488.3,1050.2 L1489.4,1035.4 L1490.4,1047.9 L1491.5,1031.4 L1492.3,1037.6 L1493.1,1035.1 L1494.0,1040.2 L1494.6,1045.7 L1495.2,1044.2 L1495.8,1049.6 L1496.5,1038.5 L1497.1,1047.3 L1497.7,1033.9 L1498.6,1042.4 L1499.4,1037.5 L1500.2,1043.9 L1502.1,1063.4 L1504.6,1038.9 L1507.7,1067.7 L1510.2,1046.5 L1511.5,1056.5 L1512.3,1045.4 L1513.2,1050.2 L1514.0,1041.4 L1514.8,1052.2 L1515.7,1043.1 L1516.5,1055.2 L1517.3,1045.4 L1518.0,1052.7 L1518.8,1046.4 L1519.5,1050.4 L1520.3,1043.9 L1522.1,1055.2 L1523.0,1050.4 L1523.8,1053.8 L1524.7,1049.0 L1527.8,1045.8 L1530.3,1052.7 L1533.4,1046.5 L1534.0,1061.2 L1534.7,1050.4 L1535.3,1064.6 L1535.9,1055.1 L1536.5,1061.9 L1537.2,1052.7 L1538.0,1041.6 L1538.8,1047.0 L1539.7,1038.9 L1542.8,1066.5 L1543.8,1053.7 L1544.9,1060.1 L1545.9,1049.0 L1547.0,1062.3 L1548.0,1055.5 L1549.1,1065.2 L1550.1,1058.0 L1551.2,1062.6 L1552.2,1052.7 L1553.1,1049.1 L1554.0,1051.2 L1554.8,1048.6 L1555.7,1050.2 L1556.6,1047.1 L1559.1,1059.0 L1559.8,1063.9 L1560.6,1061.2 L1561.3,1063.9 L1562.1,1060.9 L1562.8,1065.2 L1563.7,1056.0 L1564.5,1062.5 L1565.3,1052.7 L1566.8,1047.1 L1568.5,1070.2 L1569.5,1055.8 L1570.6,1064.2 L1571.6,1052.7 L1572.4,1060.0 L1573.3,1056.3 L1574.1,1064.0 L1577.2,1052.7 L1579.8,1050.8 L1580.6,1061.4 L1581.4,1057.3 L1582.2,1066.5 L1585.4,1068.4 L1586.4,1059.1 L1587.5,1064.6 L1588.5,1052.7 L1590.4,1049.0 L1592.9,1072.8 L1595.4,1056.5 L1596.0,1059.1 L1596.7,1056.8 L1597.3,1060.2 L1597.9,1073.6 L1598.5,1064.7 L1599.2,1076.5 L1602.9,1080.3 L1603.5,1073.5 L1604.2,1077.7 L1604.8,1069.0 L1605.8,1083.6 L1606.9,1071.1 L1607.9,1085.3 L1609.4,1059.0 L1610.2,1073.3 L1610.9,1063.5 L1611.7,1077.8 L1613.9,1062.1 L1614.9,1068.4 L1615.8,1064.8 L1616.7,1071.5 L1618.6,1082.8 L1621.1,1052.7 L1624.2,1085.3 L1627.3,1063.4 L1628.4,1077.6 L1629.4,1068.3 L1630.5,1089.0 L1631.3,1082.3 L1632.1,1086.8 L1633.0,1077.8 L1634.0,1071.9 L1635.1,1074.8 L1636.1,1069.0 L1640.0,1070.2 L1642.5,1101.5 L1645.0,1070.2 L1645.9,1079.9 L1646.7,1074.5 L1647.5,1085.2 L1650.0,1096.5 L1651.1,1098.9 L1652.1,1097.4 L1653.2,1100.2 L1655.7,1085.2 L1658.2,1102.7 L1660.1,1070.2 L1662.3,1109.0 L1664.4,1077.7 L1666.6,1069.5 L1668.2,1101.5 L1670.7,1081.4 L1672.6,1101.5 L1675.7,1077.7 L1676.5,1073.1 L1677.4,1076.5 L1678.2,1070.2 L1680.1,1067.7 L1682.6,1071.4 L1683.2,1083.8 L1683.8,1076.4 L1684.5,1085.2 L1686.4,1105.2 L1687.9,1077.7 L1689.9,1073.3 L1692.0,1110.2 L1692.8,1089.8 L1693.7,1108.7 L1694.5,1080.2 L1697.0,1100.2 L1698.2,1078.9 L1700.8,1102.7 L1701.5,1090.2 L1702.3,1094.8 L1703.0,1081.8 L1703.8,1099.8 L1704.5,1080.2 L1705.1,1104.8 L1705.8,1082.7 L1706.4,1109.0 L1707.2,1092.1 L1708.1,1102.5 L1708.9,1090.2 L1709.7,1099.4 L1710.6,1096.5 L1711.4,1106.5 L1712.2,1100.2 L1713.1,1103.9 L1713.9,1095.2 L1714.7,1112.8 L1715.6,1103.4 L1716.4,1115.9 L1719.5,1116.5 L1720.8,1090.2 L1721.4,1098.4 L1722.0,1092.9 L1722.7,1102.7 L1725.2,1085.8 L1727.7,1100.2 L1730.2,1085.2 L1731.7,1077.7 L1733.3,1105.2 L1735.5,1072.7 L1737.7,1112.7 L1739.6,1080.2 L1742.7,1121.5 L1744.6,1102.7 L1745.4,1100.1 L1746.3,1101.3 L1747.1,1099.0 L1749.6,1115.2 L1750.4,1105.1 L1751.3,1109.9 L1752.1,1102.7 L1753.1,1110.1 L1754.2,1106.6 L1755.2,1115.2 L1757.7,1099.0 L1758.5,1113.4 L1759.2,1106.0 L1760.0,1111.3 L1760.8,1104.0 L1761.5,1116.5 L1762.1,1099.6 L1762.8,1112.0 L1763.4,1090.2 L1766.5,1077.7 L1769.0,1102.7 L1769.6,1089.7 L1770.3,1097.2 L1770.9,1085.2 L1771.5,1102.0 L1772.1,1089.7 L1772.8,1114.0 L1773.4,1091.9 L1774.0,1103.5 L1774.7,1090.2 L1777.8,1132.8 L1779.7,1102.7 L1780.5,1116.7 L1781.3,1104.9 L1782.2,1121.5 L1784.7,1102.7 L1785.7,1109.5 L1786.8,1104.3 L1787.8,1112.7 L1788.6,1105.8 L1789.5,1111.9 L1790.3,1102.1 L1792.8,1115.2 L1793.6,1118.1 L1794.5,1115.5 L1795.3,1119.0 L1796.6,1092.7 L1797.2,1101.8 L1797.8,1093.7 L1798.4,1102.7 L1799.7,1087.7 L1801.6,1125.9 L1804.1,1100.2 L1806.6,1102.7 L1809.3,1126.5 L1811.0,1095.2 L1811.6,1089.3 L1812.2,1092.4 L1812.8,1087.7 L1815.3,1115.2 L1816.4,1124.5 L1817.4,1118.1 L1818.5,1126.5 L1820.4,1098.3 L1822.9,1119.0 L1823.7,1093.9 L1824.5,1114.3 L1825.4,1090.2 L1826.6,1087.1 L1827.5,1100.5 L1828.3,1092.3 L1829.1,1102.7 L1830.0,1111.3 L1830.8,1107.3 L1831.6,1117.1 L1832.9,1093.9 L1833.7,1105.0 L1834.5,1099.9 L1835.4,1110.2 L1836.6,1094.6 L1839.1,1114.0 L1840.0,1100.5 L1840.8,1108.7 L1841.7,1099.0 L1844.2,1117.7 L1847.9,1116.5 L1848.5,1096.4 L1849.2,1112.2 L1849.8,1093.9 L1852.3,1112.7 L1852.9,1085.2 L1856.7,1123.4 L1858.5,1090.2 L1859.2,1078.5 L1859.8,1085.9 L1860.4,1076.4 L1862.9,1095.2 L1866.1,1075.2 L1867.1,1088.4 L1868.2,1078.7 L1869.2,1099.0 L1871.7,1090.2 L1874.2,1068.9 L1875.2,1097.7 L1876.3,1083.2 L1877.3,1101.5 L1881.0,1100.2 L1881.7,1080.6 L1882.3,1094.2 L1882.9,1075.1 L1884.8,1061.4 L1886.0,1103.3 L1886.9,1099.2 L1887.7,1103.0 L1888.5,1097.7 L1889.2,1081.6 L1889.8,1093.0 L1890.4,1075.1 L1891.4,1067.6 L1893.5,1093.9 L1895.4,1070.1 L1897.3,1087.7 L1897.9,1098.0 L1898.6,1091.2 L1899.2,1100.2 L1900.4,1076.4 L1901.5,1083.8 L1902.5,1079.4 L1903.6,1087.7 L1904.8,1081.4 L1907.3,1080.2 L1908.2,1097.9 L1909.0,1086.4 L1909.8,1105.2 L1913.0,1095.2 L1916.1,1085.2 L1916.9,1077.2 L1917.8,1084.4 L1918.6,1073.9 L1919.2,1072.6 L1919.8,1073.7 L1920.5,1071.6 L1921.3,1088.3 L1922.2,1079.7 L1923.0,1098.9 L1924.2,1072.6 L1925.3,1077.8 L1926.3,1073.5 L1927.4,1080.2 L1929.2,1117.7 L1931.1,1083.9 L1933.6,1110.2 L1936.1,1083.9 L1936.8,1089.2 L1937.4,1087.1 L1938.0,1092.7 L1941.8,1115.2 L1943.0,1087.7 L1945.5,1083.9 L1948.0,1115.2 L1948.7,1094.3 L1949.3,1111.0 L1949.9,1085.2 L1952.4,1100.2 L1953.7,1106.5 L1954.5,1094.9 L1955.3,1101.9 L1956.2,1093.3 L1956.8,1105.5 L1957.4,1098.9 L1958.0,1109.0 L1958.9,1103.5 L1959.7,1105.9 L1960.5,1100.2 L1963.1,1109.0 L1966.2,1097.7 L1967.0,1092.5 L1967.9,1096.5 L1968.7,1090.2 L1970.6,1087.7 L1971.2,1106.6 L1971.8,1095.7 L1972.5,1110.2 L1975.6,1087.7 L1976.8,1116.5 L1979.3,1091.4 L1980.0,1105.1 L1980.6,1100.7 L1981.2,1112.7 L1983.7,1087.7 L1986.2,1112.7 L1987.1,1115.1 L1987.9,1112.9 L1988.7,1115.8 L1989.4,1098.8 L1990.0,1103.8 L1990.6,1087.7 L1991.4,1080.6 L1992.3,1086.6 L1993.1,1077.7 L1993.7,1091.8 L1994.4,1079.3 L1995.0,1100.2 L1995.8,1106.7 L1996.7,1103.1 L1997.5,1110.2 L1998.1,1116.9 L1998.8,1112.3 L1999.4,1120.2 L2000.0,1090.2 L2003.8,1109.0 L2005.0,1091.4 L2008.1,1105.2 L2010.0,1091.4 L2012.8,1087.7 L2014.4,1116.5 L2015.4,1099.2 L2016.5,1111.9 L2017.5,1095.2 L2020.7,1123.4 L2021.5,1121.1 L2022.3,1122.2 L2023.2,1120.2 L2026.0,1093.9 L2027.2,1132.1 L2030.1,1100.2 L2031.1,1110.6 L2032.2,1102.4 L2033.2,1117.1 L2035.1,1085.2 L2038.2,1097.7 L2039.5,1114.0 L2042.6,1097.7 L2045.1,1111.5 L2045.9,1103.1 L2046.8,1108.9 L2047.6,1100.2 L2048.4,1111.8 L2049.3,1104.5 L2050.1,1112.7 L2052.6,1102.7 L2053.2,1105.0 L2053.8,1103.0 L2054.5,1106.5 L2055.1,1126.8 L2055.7,1108.7 L2056.4,1133.4 L2057.9,1095.8 L2060.7,1112.7 L2061.8,1122.6 L2062.8,1113.4 L2063.9,1124.6 L2066.1,1093.3 L2068.9,1114.0 L2069.9,1101.4 L2071.0,1107.0 L2072.0,1093.3 L2072.8,1109.9 L2073.7,1095.6 L2074.5,1112.7 L2075.2,1124.7 L2075.9,1119.3 L2076.6,1133.4 L2078.9,1112.7 L2080.4,1103.3 L2082.0,1127.7 L2085.2,1112.7 L2086.2,1102.6 L2087.2,1111.7 L2088.3,1100.2 L2090.6,1137.1 L2092.1,1095.8 L2095.2,1126.5 L2096.2,1104.5 L2097.3,1122.8 L2098.3,1100.2 L2101.4,1129.6 L2102.3,1111.6 L2103.1,1122.0 L2103.9,1100.2 L2104.8,1090.9 L2105.6,1098.5 L2106.4,1087.0 L2108.3,1130.9 L2110.2,1091.4 L2112.1,1111.5 L2112.9,1095.7 L2113.8,1103.4 L2114.6,1083.9" fill="none" stroke="#f00" stroke-width="4.7" stroke-linejoin="round" stroke-linecap="round"/>
<line x1="387.05" y1="1285.2" x2="385.0" y2="173.9" stroke="#808080" stroke-width="4.3" stroke-dasharray="22.6 22.74"/>
<line x1="825.6" y1="1214.1" x2="828.0" y2="754.5" stroke="#808080" stroke-width="4.3" stroke-dasharray="22.6 22.74"/>
<line x1="1258.0" y1="849.4" x2="1256.8" y2="1279.7" stroke="#808080" stroke-width="4.3" stroke-dasharray="22.6 22.74"/>
<text transform="translate(274.00 1236.33) scale(1.0 1.04)" font-size="59.5" text-anchor="end">400</text>
<text transform="translate(274.00 919.35) scale(1.0 1.04)" font-size="59.5" text-anchor="end">800</text>
<text transform="translate(274.00 602.37) scale(1.0 1.04)" font-size="59.5" text-anchor="end">1200</text>
<text transform="translate(274.00 285.39) scale(1.0 1.04)" font-size="59.5" text-anchor="end">1600</text>
<text transform="translate(475.58 1375.70) scale(1.0 1.04)" font-size="59.5" text-anchor="middle">200</text>
<text transform="translate(803.79 1375.70) scale(1.0 1.04)" font-size="59.5" text-anchor="middle">400</text>
<text transform="translate(1132.00 1375.70) scale(1.0 1.04)" font-size="59.5" text-anchor="middle">600</text>
<text transform="translate(1460.21 1375.70) scale(1.0 1.04)" font-size="59.5" text-anchor="middle">800</text>
<text transform="translate(1788.42 1375.70) scale(1.0 1.04)" font-size="59.5" text-anchor="middle">1000</text>
<text transform="translate(905.5 1480) scale(1.0 1.03)" font-size="66.5">Raman shift (cm<tspan font-size="43.5" dx="-1.5" dy="-27">-1</tspan><tspan dy="27">)</tspan></text>
<text transform="translate(63.3 937) rotate(-90) scale(1.0 1.03)" font-size="66.5">Intensity (arb. unit)</text>
<text transform="translate(1833.00 188.50) scale(1.0 1.03)" font-size="64.5" fill="#f00">Area 1</text>
<text transform="translate(1833.00 282.90) scale(1.0 1.03)" font-size="64.5">Area 2</text>
<text transform="translate(334.00 102.10) scale(1.0 1.04)" font-size="55.2">144</text>
<text transform="translate(472.00 597.60) scale(1.0 1.04)" font-size="55.2">218</text>
<text transform="translate(694.00 705.30) scale(1.0 1.04)" font-size="55.2">363</text>
<text transform="translate(791.00 690.80) scale(1.0 1.04)" font-size="55.2">413</text>
<text transform="translate(1209.30 823.60) scale(1.0 1.04)" font-size="55.2">675</text>
<text transform="translate(722.50 1060.00) scale(1.0 1.04)" font-size="55.2">383</text>
<text transform="translate(840.00 1101.50) scale(1.0 1.04)" font-size="55.2">440</text>
<text transform="translate(1101.00 1184.50) scale(1.0 1.04)" font-size="55.2">608</text>
<text transform="translate(1686.00 1175.20) scale(1.0 1.04)" font-size="55.2">972</text>
</svg>
</body></html>
